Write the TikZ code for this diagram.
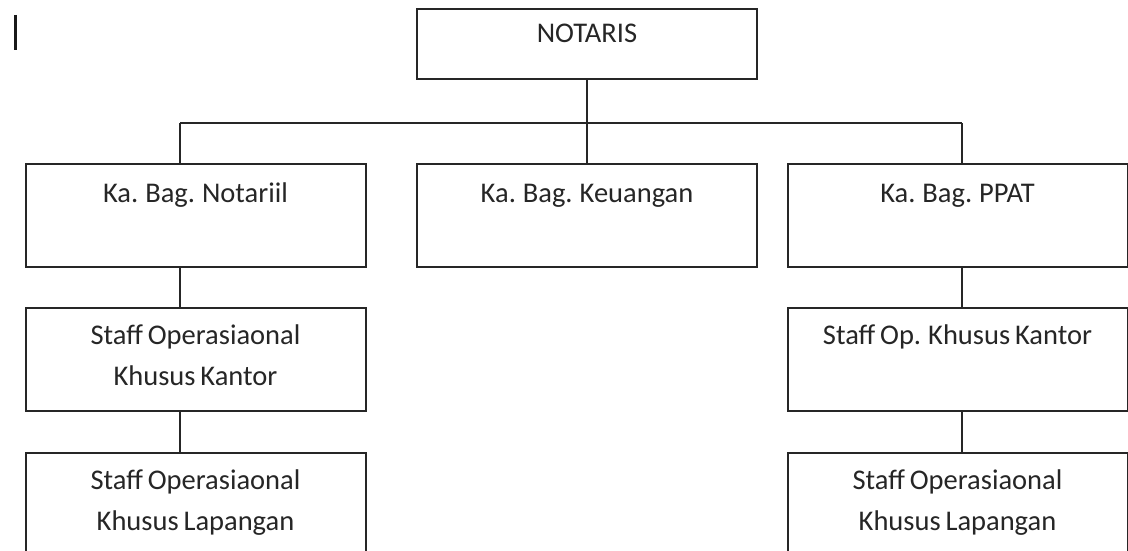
\documentclass[tikz,border=0pt]{standalone}
\usepackage{fontspec}
\setmainfont{Carlito}
\newcommand\isifont{\fontsize{28.5}{41}\selectfont\spaceskip 0.17em plus 0.05em\relax}
\begin{document}
\begin{tikzpicture}[x=1pt,y=-1pt,
  kotak/.style={draw=black!85,line width=2pt,minimum width=340pt,minimum height=103pt,inner sep=0pt},
  isi/.style={anchor=base,align=center,text=black!85,inner sep=0pt,font=\isifont},
  garis/.style={draw=black!85,line width=2pt}]
\useasboundingbox (0,0) rectangle (1128,551);
\clip (0,0) rectangle (1128,551);
\fill[white] (0,0) rectangle (1128,551);
\draw[line width=3pt,black!90] (15,15) -- (15,50);
\node[kotak,minimum height=70pt] (notaris) at (587,44) {};
\node[kotak] (notariil) at (195.5,215.5) {};
\node[kotak] (keuangan) at (587,215.5) {};
\node[kotak] (ppat) at (957.5,215.5) {};
\node[kotak] (kantorkiri) at (195.5,359.5) {};
\node[kotak] (kantorkanan) at (957.5,359.5) {};
\node[kotak] (lapkiri) at (195.5,504.5) {};
\node[kotak] (lapkanan) at (957.5,504.5) {};
\node[isi] (tnotaris) at ([yshift=-35]notaris.north) {NOTARIS};
\node[isi] (tnotariil) at ([yshift=-39]notariil.north) {Ka. Bag. Notariil};
\node[isi] (tkeuangan) at ([yshift=-39]keuangan.north) {Ka. Bag. Keuangan};
\node[isi] (tppat) at ([yshift=-39]ppat.north) {Ka. Bag. PPAT};
\node[isi] (tkantorkiri) at ([yshift=-78]kantorkiri.north) {Staff Operasiaonal\\Khusus Kantor};
\node[isi] (tkantorkanan) at ([yshift=-37]kantorkanan.north) {Staff Op. Khusus Kantor};
\node[isi] (tlapkiri) at ([yshift=-78]lapkiri.north) {Staff Operasiaonal\\Khusus Lapangan};
\node[isi] (tlapkanan) at ([yshift=-78]lapkanan.north) {Staff Operasiaonal\\Khusus Lapangan};
\coordinate (kiri) at (180,123);
\coordinate (kanan) at (962,123);
\draw[garis] (kiri) -- (kanan);
\draw[garis] (notaris.south) -- (notaris.south |- kiri);
\draw[garis] (kiri) -- (kiri |- notariil.north);
\draw[garis] (keuangan.north |- kiri) -- (keuangan.north);
\draw[garis] (kanan) -- (kanan |- ppat.north);
\draw[garis] (kiri |- notariil.south) -- (kiri |- kantorkiri.north);
\draw[garis] (kiri |- kantorkiri.south) -- (kiri |- lapkiri.north);
\draw[garis] (kanan |- ppat.south) -- (kanan |- kantorkanan.north);
\draw[garis] (kanan |- kantorkanan.south) -- (kanan |- lapkanan.north);
\end{tikzpicture}
\end{document}
